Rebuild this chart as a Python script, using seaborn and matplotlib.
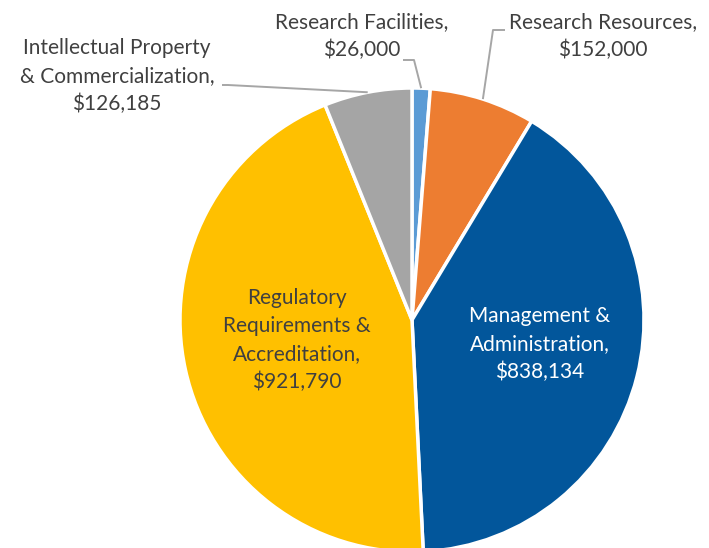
import numpy as np
import matplotlib.pyplot as plt
import seaborn as sns

# data
categories = ["Research Facilities", "Research Resources", "Management &\nAdministration",
              "Regulatory\nRequirements &\nAccreditation", "Intellectual Property\n& Commercialization"]
values = [26000, 152000, 838134, 921790, 126185]
colors = ["#5B9BD5", "#ED7D31", "#02569B", "#FFC000", "#A5A5A5"]

sns.set_theme(style="white")
plt.rcParams['font.family'] = ['Lato', 'DejaVu Sans']

W, H = 709, 548
fig = plt.figure(figsize=(W / 100, H / 100), dpi=100)
ax = fig.add_axes([0, 0, 1, 1])

cx, cy, r = 412, H - 320, 232
wedges, _ = ax.pie(values, colors=colors, startangle=90, counterclock=False,
                   center=(cx, cy), radius=r,
                   wedgeprops=dict(edgecolor='white', linewidth=2.5))
ax.set_xlim(0, W)
ax.set_ylim(0, H)
ax.set_aspect('equal')
ax.axis('off')

labels = [f"{c},\n${v:,}" for c, v in zip(categories, values)]
fs = 15
ls = 1.5
txt = '#404040'
lead = '#A6A6A6'


def edge_point(w):
    a = np.deg2rad((w.theta1 + w.theta2) / 2)
    return cx + r * np.cos(a), cy + r * np.sin(a)


# label centres (pixel coords, y from top) and leader start/elbow
outside = {
    0: ((362, 36), [(403, 60), (414, 60)]),
    1: ((603, 36), [(505, 30), (493, 30)]),
    4: ((117, 76), [(222, 85), (228, 85)]),
}
for i, ((tx, ty), pts) in outside.items():
    ax.text(tx, H - ty, labels[i], ha='center', va='center', fontsize=fs,
            color=txt, linespacing=ls)
    ex, ey = edge_point(wedges[i])
    xs = [p[0] for p in pts] + [ex]
    ys = [H - p[1] for p in pts] + [ey]
    ax.plot(xs, ys, color=lead, lw=1.4, solid_capstyle='butt')

ax.text(540, H - 344, labels[2], ha='center', va='center', fontsize=fs,
        color='white', linespacing=ls)
ax.text(297, H - 340, labels[3], ha='center', va='center', fontsize=fs,
        color=txt, linespacing=ls)

fig.savefig('out.png', dpi=100)
